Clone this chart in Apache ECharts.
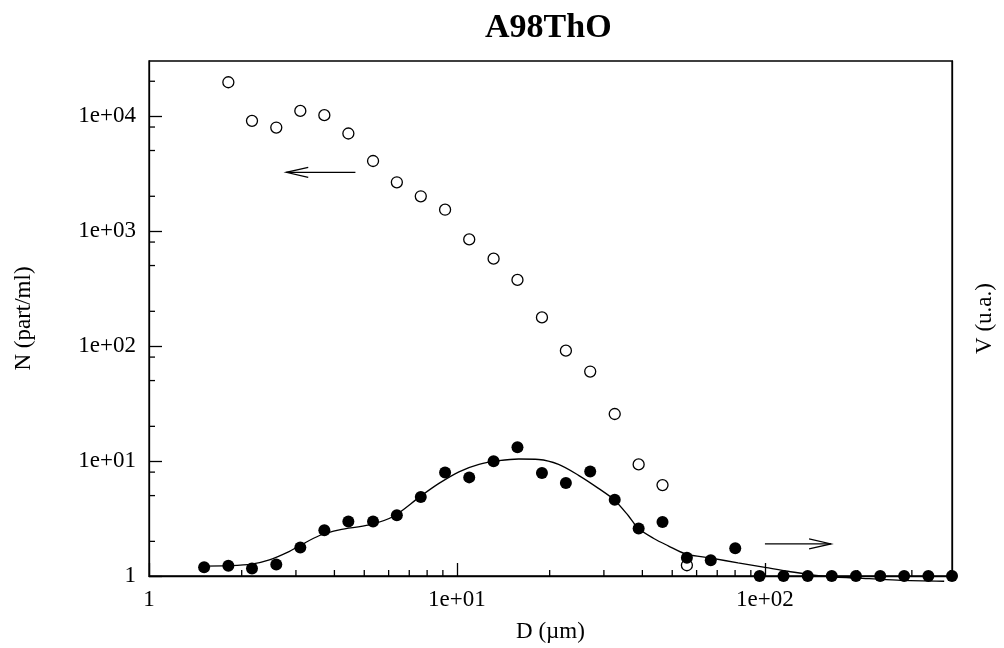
<!DOCTYPE html>
<html>
<head>
<meta charset="utf-8">
<script src="https://cdn.jsdelivr.net/npm/echarts@6/dist/echarts.min.js"></script>
<style>html,body{margin:0;padding:0;background:#fff}#c{width:1004px;height:648px}</style>
</head>
<body>
<div id="c"></div>
<script>
// D values (µm) for the measured classes
const dN = [1.81, 2.16, 2.59, 3.10, 3.71, 4.44, 5.34, 6.38, 7.63, 9.15, 10.96, 13.15, 15.72, 18.88, 22.58, 27.08, 32.53, 38.9, 46.5, 55.8];
// N (part/ml), open circles
const nVals = [19600, 9060, 7920, 11040, 10140, 7030, 4055, 2646, 2000, 1529, 844, 574, 375, 177, 91, 59.9, 25.6, 9.33, 6.17, 1.24];
// D values for volume points
const dV = [1.51, 1.81, 2.16, 2.59, 3.10, 3.71, 4.44, 5.34, 6.38, 7.63, 9.15, 10.96, 13.15, 15.72, 18.88, 22.58, 27.08, 32.53, 38.9, 46.5, 55.8, 66.7, 80.1, 96.1, 114.9, 137.7, 164.8, 197.5, 236.8, 283.2, 339.4, 405];
// V (u.a.), filled circles
const vVals = [1.19, 1.23, 1.16, 1.26, 1.77, 2.50, 2.98, 2.98, 3.37, 4.86, 7.95, 7.20, 9.96, 13.17, 7.87, 6.43, 8.11, 4.61, 2.59, 2.95, 1.44, 1.37, 1.74, 1, 1, 1, 1, 1, 1, 1, 1, 1];
// fitted curve
const fitD = [1.52, 1.80, 2.155, 2.46, 2.86, 3.08, 3.58, 4.15, 5.19, 6.21, 7.59, 8.74, 10.15, 11.79, 13.68, 15.87, 18.42, 21.38, 24.82, 28.8, 32.45, 36.03, 38.8, 43.4, 48.5, 55.5, 66.9, 81.8, 100, 118.7, 151.8, 200, 269, 382];
const fitV = [1.22, 1.23, 1.27, 1.38, 1.64, 1.83, 2.25, 2.52, 2.78, 3.29, 4.9, 6.38, 8.05, 9.33, 10.05, 10.4, 10.3, 9.33, 7.5, 5.78, 4.58, 3.34, 2.6, 2.13, 1.83, 1.55, 1.43, 1.30, 1.19, 1.10, 1.0, 0.96, 0.92, 0.90];
// arrows [fromX, fromY, toX, toY]
const arrowN = [4.68, 3230, 2.79, 3230];
const arrowV = [100, 1.9, 164, 1.9];
// minor ticks
const xMinor = [2,3,4,5,6,7,8,9,20,30,40,50,60,70,80,90,200,300,400];
const yMinor = [2,5,8,20,50,80,200,500,800,2000,5000,8000,20000];

const X_MIN = 1, X_MAX = 405, Y_MIN = 1, Y_MAX = 30000;
const FONT = 'Liberation Serif';

function fmt(v) {
  const e = Math.log10(v);
  if (Math.abs(e - Math.round(e)) > 1e-6) return '';
  const r = Math.round(e);
  if (r === 0) return '1';
  return '1e+' + String(r).padStart(2, '0');
}

const chart = echarts.init(document.getElementById('c'), null, {renderer: 'canvas'});
chart.setOption({
  backgroundColor: '#fff',
  animation: false,
  title: {
    text: 'A98ThO', left: 485, top: 11, padding: 0,
    textStyle: {fontFamily: FONT, fontSize: 34, fontWeight: 'bold', color: '#000'}
  },
  grid: {left: 149, right: 46, top: 61, bottom: 70, show: true, borderColor: '#000', borderWidth: 1.3, backgroundColor: 'transparent'},
  xAxis: {
    type: 'log', logBase: 10, min: X_MIN, max: X_MAX,
    name: 'D (µm)', nameLocation: 'middle', nameGap: 44,
    nameTextStyle: {fontFamily: FONT, fontSize: 23, color: '#000'},
    axisLine: {lineStyle: {color: '#000', width: 1.3}},
    axisTick: {inside: true, length: 13, lineStyle: {color: '#000', width: 1.3}},
    axisLabel: {formatter: fmt, fontFamily: FONT, fontSize: 23, color: '#000', margin: 12, showMaxLabel: false},
    splitLine: {show: false}
  },
  yAxis: [{
    type: 'log', logBase: 10, min: Y_MIN, max: Y_MAX,
    name: 'N (part/ml)', nameLocation: 'middle', nameGap: 114, nameRotate: 90,
    nameTextStyle: {fontFamily: FONT, fontSize: 23, color: '#000'},
    axisLine: {lineStyle: {color: '#000', width: 1.3}},
    axisTick: {inside: true, length: 13, lineStyle: {color: '#000', width: 1.3}},
    axisLabel: {formatter: fmt, fontFamily: FONT, fontSize: 23, color: '#000', margin: 13, showMaxLabel: false},
    splitLine: {show: false}
  }, {
    type: 'log', logBase: 10, min: Y_MIN, max: Y_MAX, position: 'right',
    name: 'V (u.a.)', nameLocation: 'middle', nameGap: 21, nameRotate: 90,
    nameTextStyle: {fontFamily: FONT, fontSize: 23, color: '#000'},
    axisLine: {show: true, lineStyle: {color: '#000', width: 1.3}},
    axisTick: {show: false}, axisLabel: {show: false}, splitLine: {show: false}
  }],
  series: [
    {
      type: 'custom', name: 'xminor', silent: true, clip: false, xAxisIndex: 0, yAxisIndex: 0,
      data: xMinor.map(v => [v, Y_MIN]),
      renderItem: function (params, api) {
        const p = api.coord([api.value(0), Y_MIN]);
        return {type: 'line', shape: {x1: p[0], y1: p[1], x2: p[0], y2: p[1] - 6}, style: {stroke: '#000', lineWidth: 1.3}};
      }
    },
    {
      type: 'custom', name: 'yminor', silent: true, clip: false, xAxisIndex: 0, yAxisIndex: 0,
      data: yMinor.map(v => [X_MIN, v]),
      renderItem: function (params, api) {
        const p = api.coord([X_MIN, api.value(1)]);
        return {type: 'line', shape: {x1: p[0], y1: p[1], x2: p[0] + 6, y2: p[1]}, style: {stroke: '#000', lineWidth: 1.3}};
      }
    },
    {
      type: 'line', name: 'fit', yAxisIndex: 1, smooth: 0.3, showSymbol: false, symbol: 'none', clip: false,
      lineStyle: {color: '#000', width: 1.3},
      data: fitD.map((d, i) => [d, fitV[i]]), z: 3
    },
    {
      type: 'scatter', name: 'N', yAxisIndex: 0, symbol: 'circle', symbolSize: 11, clip: false,
      itemStyle: {color: '#fff', borderColor: '#000', borderWidth: 1.3, opacity: 1},
      data: dN.map((d, i) => [d, nVals[i]]), z: 4
    },
    {
      type: 'scatter', name: 'V', yAxisIndex: 1, symbol: 'circle', symbolSize: 12, clip: false,
      itemStyle: {color: '#000', opacity: 1},
      data: dV.map((d, i) => [d, vVals[i]]), z: 5
    },
    {
      type: 'custom', name: 'arrows', silent: true, clip: false, xAxisIndex: 0, yAxisIndex: 0,
      data: [arrowN, arrowV],
      renderItem: function (params, api) {
        const a = api.coord([api.value(0), api.value(1)]);
        const b = api.coord([api.value(2), api.value(3)]);
        const dir = b[0] > a[0] ? 1 : -1;
        return {type: 'group', children: [
          {type: 'line', shape: {x1: a[0], y1: a[1], x2: b[0], y2: b[1]}, style: {stroke: '#000', lineWidth: 1.2}},
          {type: 'polyline', shape: {points: [[b[0] - dir * 22, b[1] - 5], [b[0], b[1]], [b[0] - dir * 22, b[1] + 5]]}, style: {stroke: '#000', lineWidth: 1.2, fill: null}}
        ]};
      }
    }
  ]
});
</script>
</body>
</html>
